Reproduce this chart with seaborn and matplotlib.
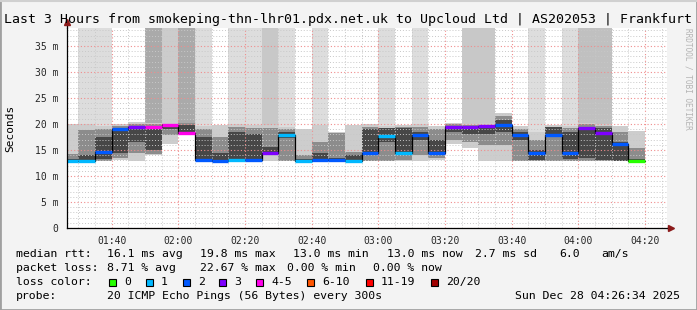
import numpy as np
import pandas as pd
import matplotlib
matplotlib.use("Agg")
import matplotlib.pyplot as plt
import seaborn as sns
from matplotlib.ticker import MultipleLocator, FixedLocator, FuncFormatter
from matplotlib.patches import Rectangle

# ---------------- data ----------------
bin_start = ["01:26:34", "01:30", "01:35", "01:40", "01:45", "01:50", "01:55",
             "02:00", "02:05", "02:10", "02:15", "02:20", "02:25", "02:30",
             "02:35", "02:40", "02:45", "02:50", "02:55", "03:00", "03:05",
             "03:10", "03:15", "03:20", "03:25", "03:30", "03:35", "03:40",
             "03:45", "03:50", "03:55", "04:00", "04:05", "04:10", "04:15"]
last_end = "04:20"
graph_start = "01:26:34"
graph_end = "04:26:34"

median = [12.9, 12.9, 14.6, 19.1, 19.5, 19.5, 19.9, 18.3, 13.0, 12.9, 13.1, 13.0,
          14.5, 17.8, 12.9, 13.0, 13.0, 12.95, 14.5, 17.7, 14.5, 17.9, 14.5, 19.5,
          19.5, 19.7, 19.9, 17.9, 14.5, 17.9, 14.5, 19.2, 18.3, 16.2, 12.9]
loss = [1, 1, 2, 2, 3, 4, 4, 4, 2, 2, 1, 2, 3, 1, 1, 2, 2, 1, 2, 1, 1, 2, 2, 3,
        3, 3, 2, 2, 2, 2, 2, 3, 3, 2, 0]
smoke_lo = [12.8, 12.8, 12.8, 13.0, 12.9, 14.0, 16.2, 18.1, 12.8, 12.8, 12.8, 12.8,
            12.8, 12.9, 12.8, 12.8, 12.8, 12.8, 12.8, 12.8, 12.8, 12.8, 13.0, 16.2,
            15.4, 12.8, 12.9, 12.8, 12.8, 12.8, 12.8, 12.8, 12.8, 12.8, 12.8]
smoke_hi = [20.0, 20.0, 19.6, 20.0, 20.4, 20.2, 20.2, 20.2, 19.6, 19.8, 20.0, 19.8,
            19.8, 19.5, 19.0, 19.8, 18.5, 19.8, 20.0, 19.6, 19.8, 20.0, 19.6, 20.2,
            20.0, 20.2, 22.1, 19.6, 18.4, 19.8, 19.6, 20.2, 20.0, 19.6, 18.7]
mid_lo = [12.8, 13.0, 12.8, 13.5, 14.5, 14.2, 17.8, 18.1, 12.9, 12.9, 12.9, 13.0,
          14.2, 12.9, 12.8, 12.9, 12.9, 12.9, 12.9, 12.8, 13.0, 14.0, 13.5, 17.0,
          16.5, 16.0, 16.0, 12.9, 12.9, 12.9, 12.8, 12.9, 12.8, 12.8, 12.8]
mid_hi = [14.3, 18.9, 19.0, 19.7, 20.0, 20.0, 20.0, 20.1, 19.0, 17.5, 19.5, 19.2,
          19.3, 19.0, 14.0, 16.5, 18.3, 14.6, 19.5, 19.3, 19.5, 19.4, 19.0, 20.0,
          19.8, 19.9, 21.5, 19.0, 17.0, 19.5, 19.3, 20.0, 19.7, 18.5, 15.3]
in_lo = [12.8, 12.9, 13.3, 14.5, 16.5, 15.0, 19.0, 18.2, 12.9, 12.9, 13.0, 13.0,
         14.4, 17.3, 12.8, 12.9, 12.9, 12.9, 14.0, 16.5, 14.5, 17.0, 14.5, 18.5,
         18.0, 18.0, 18.5, 17.0, 13.0, 17.5, 13.3, 13.5, 13.0, 12.9, 12.8]
in_hi = [13.3, 14.1, 17.5, 19.2, 19.6, 19.6, 20.0, 19.8, 17.5, 14.5, 18.5, 18.0,
         15.5, 18.5, 13.2, 14.5, 13.5, 14.0, 19.0, 19.2, 19.2, 18.5, 17.0, 19.7,
         19.6, 19.7, 20.8, 18.5, 15.0, 19.5, 18.5, 19.5, 19.3, 16.5, 13.3]
# grey level of the outlier column above the smoke (0 = none)
column = [0, 0xdd, 0xdd, 0, 0, 0xaa, 0xcc, 0xaa, 0xdd, 0, 0xdd, 0xdd, 0xc8, 0xdd,
          0, 0xdd, 0, 0, 0, 0xdd, 0, 0xdd, 0, 0, 0xc8, 0xc8, 0, 0, 0xdd, 0, 0xdd,
          0xc0, 0xc0, 0, 0]

loss_labels = ["0", "1", "2", "3", "4-5", "6-10", "11-19", "20/20"]
loss_colors = ["#26ff00", "#00b8ff", "#0059ff", "#7e00ff", "#ff00ea",
               "#ff5500", "#ff0000", "#a10000"]
loss_upper = [0, 1, 2, 3, 5, 10, 19, 20]

title = "Last 3 Hours from smokeping-thn-lhr01.pdx.net.uk to Upcloud Ltd | AS202053 | Frankfurt"
stats_rtt = ["median rtt:", "16.1 ms avg", "19.8 ms max", "13.0 ms min",
             "13.0 ms now", "2.7 ms sd", "6.0", "am/s"]
stats_loss = ["packet loss:", "8.71 % avg", "22.67 % max", "0.00 % min", "0.00 % now"]
probe_text = "20 ICMP Echo Pings (56 Bytes) every 300s"
date_text = "Sun Dec 28 04:26:34 2025"

# ---------------- helpers ----------------
def tmin(s):
    p = [int(v) for v in s.split(":")]
    while len(p) < 3:
        p.append(0)
    return p[0] * 60 + p[1] + p[2] / 60.0

def grey(v):
    return "#%02x%02x%02x" % (v, v, v)

def loss_color(n):
    for up, c in zip(loss_upper, loss_colors):
        if n <= up:
            return c
    return loss_colors[-1]

starts = [tmin(s) for s in bin_start]
ends = starts[1:] + [tmin(last_end)]
x0, x1 = tmin(graph_start), tmin(graph_end)

W, H = 697, 310
MONO = "DejaVu Sans Mono"
sns.set_style("white")
plt.rcParams["font.family"] = [MONO, "DejaVu Sans"]

fig = plt.figure(figsize=(W / 100, H / 100), dpi=100)
fig.patch.set_facecolor("#f3f3f3")
ax = fig.add_axes([67 / W, (H - 228) / H, 600 / W, 200 / H])
ax.set_facecolor("white")
ymax = 200 / 26 * 5
ax.set_xlim(x0, x1)
ax.set_ylim(0, ymax)

OUTER, MID, INNER = "#cdcdcd", "#8c8c8c", "#474747"
for i in range(len(starts)):
    xs = [starts[i], ends[i]]
    kw = dict(linewidth=0, antialiased=False, zorder=1)
    if column[i]:
        ax.fill_between(xs, smoke_hi[i], ymax, color=grey(column[i]), **kw)
    ax.fill_between(xs, smoke_lo[i], smoke_hi[i], color=OUTER, **kw)
    ax.fill_between(xs, mid_lo[i], mid_hi[i], color=MID, **kw)
    ax.fill_between(xs, in_lo[i], in_hi[i], color=INNER, **kw)

# median: thin black step line then loss-coloured segments
step_df = pd.DataFrame({"t": starts + [ends[-1]], "rtt": median + [median[-1]]})
sns.lineplot(data=step_df, x="t", y="rtt", drawstyle="steps-post", color="black",
             linewidth=0.9, estimator=None, ax=ax, zorder=3)
ax.hlines(median, starts, ends, colors=[loss_color(n) for n in loss],
          linewidth=2.4, zorder=4)

# grid
ax.xaxis.set_major_locator(FixedLocator([tmin(t) for t in
                           ["01:40", "02:00", "02:20", "02:40", "03:00", "03:20",
                            "03:40", "04:00", "04:20"]]))
ax.xaxis.set_minor_locator(FixedLocator([tmin("01:30") + 5 * k for k in range(36)]))
ax.yaxis.set_major_locator(MultipleLocator(5))
ax.yaxis.set_minor_locator(MultipleLocator(1))
ax.set_axisbelow(False)
ax.grid(which="minor", color="#c8c8c8", linestyle=(0, (1, 2)), linewidth=0.7)
ax.grid(which="major", color="#f08c8c", linestyle=(0, (1, 2)), linewidth=0.8)
for gl in ax.get_xgridlines() + ax.get_ygridlines():
    gl.set_zorder(2.5)

ax.xaxis.set_major_formatter(FuncFormatter(
    lambda v, p: "%02d:%02d" % (int(round(v)) // 60, int(round(v)) % 60)))
ax.yaxis.set_major_formatter(FuncFormatter(
    lambda v, p: "0" if abs(v) < 1e-9 else "%d m" % round(v)))
ax.tick_params(axis="both", which="both", length=2, width=0.6, color="#444444",
               labelsize=7, pad=4)
ax.tick_params(axis="x", pad=3.5)
for lab in ax.get_xticklabels() + ax.get_yticklabels():
    lab.set_family(MONO)

for s in ["top", "right"]:
    ax.spines[s].set_visible(False)
for s in ["left", "bottom"]:
    ax.spines[s].set_color("black")
    ax.spines[s].set_linewidth(0.9)
    ax.spines[s].set_zorder(5)
ax.set_xlabel("")
ax.set_ylabel("")

# axis arrows
ax.plot([0, 0], [1, 1.03], transform=ax.transAxes, color="black", lw=0.9,
        clip_on=False, zorder=5)
ax.plot([0], [1.03], marker="^", markersize=4.5, color="#8b1a1a",
        transform=ax.transAxes, clip_on=False, zorder=6)
ax.plot([1, 1.006], [0, 0], transform=ax.transAxes, color="black", lw=0.9,
        clip_on=False, zorder=5)
ax.plot([1.006], [0], marker=">", markersize=4.5, color="#8b1a1a",
        transform=ax.transAxes, clip_on=False, zorder=6)

def ftext(x, y, s, **kw):
    base = dict(fontsize=8.25, family=MONO, va="center", ha="left", color="black")
    base.update(kw)
    fig.text(x / W, 1 - y / H, s, **base)

# title, y label, watermark
ftext(4, 19, title, fontsize=9.5)
ftext(10, 128, "Seconds", fontsize=8.0, rotation=90, ha="center")
ftext(688, 28, "RRDTOOL / TOBI OETIKER", fontsize=5.6, rotation=270,
      ha="center", va="top", color="#b4b4b4")

# legend text
rtt_x = [16, 107, 200, 293, 387, 475, 559, 601]
for x, s in zip(rtt_x, stats_rtt):
    ftext(x, 254, s)
loss_x = [16, 107, 200, 287, 373]
for x, s in zip(loss_x, stats_loss):
    ftext(x, 268, s)
ftext(16, 282, "loss color:")
box_x = [109, 146, 183, 219, 256, 307, 366, 431]
for bx, lab, col in zip(box_x, loss_labels, loss_colors):
    fig.add_artist(Rectangle((bx / W, 1 - 286 / H), 7 / W, 7 / H, facecolor=col,
                             edgecolor="black", linewidth=0.8,
                             transform=fig.transFigure))
    ftext(bx + 15, 282, lab)
ftext(16, 296, "probe:")
ftext(107, 296, probe_text)
ftext(680, 296, date_text, ha="right")

# frame
fig.add_artist(Rectangle((0, 0), 1, 1, fill=False, edgecolor="#a0a0a0",
                         linewidth=2, transform=fig.transFigure))
fig.add_artist(plt.Line2D([0, 1], [1 - 1 / H, 1 - 1 / H], color="#d0d0d0",
                          linewidth=1.5, transform=fig.transFigure))

fig.savefig("out.png", dpi=100, facecolor=fig.get_facecolor())
